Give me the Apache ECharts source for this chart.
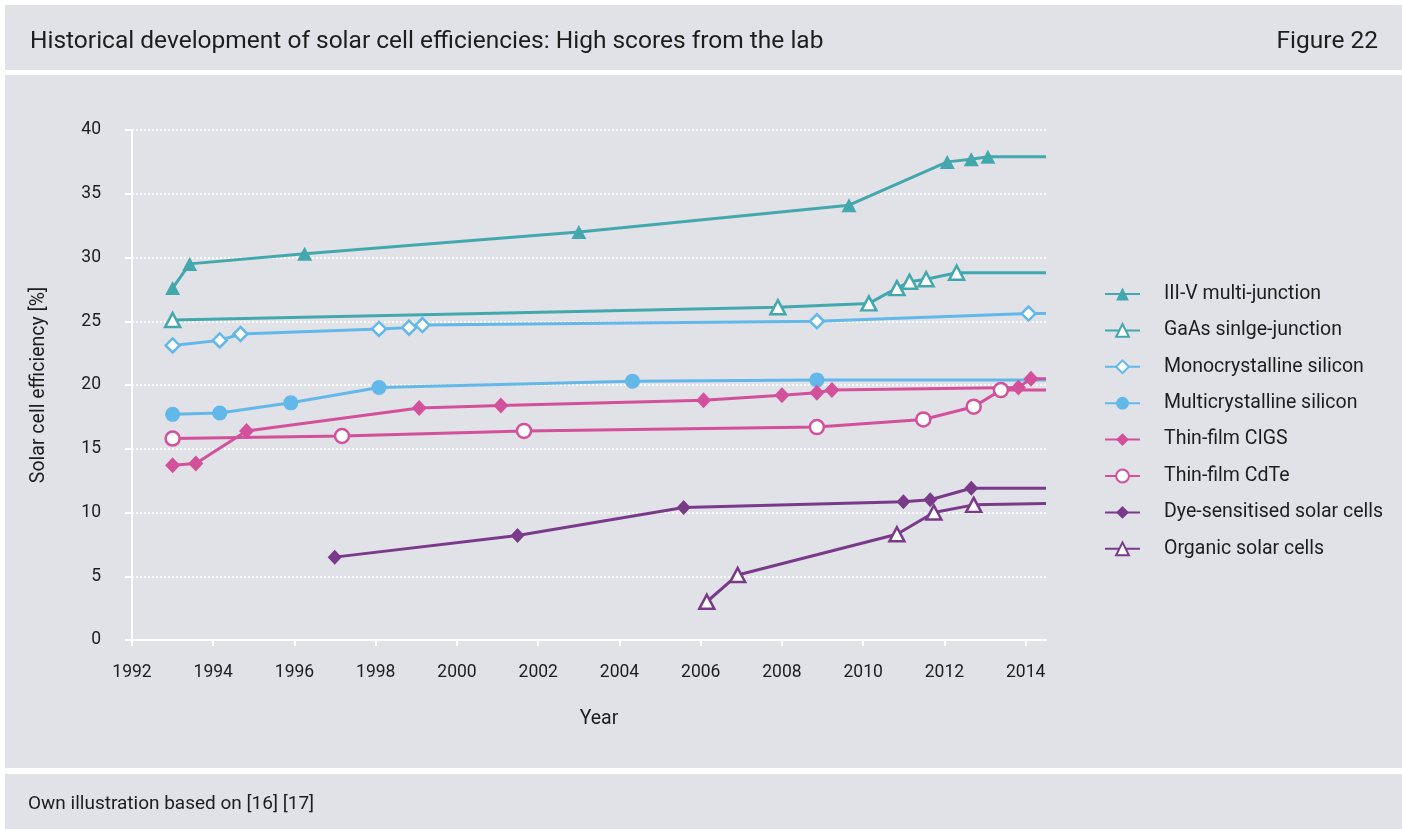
<!DOCTYPE html>
<html>
<head>
<meta charset="utf-8">
<script src="https://cdn.jsdelivr.net/npm/echarts@6/dist/echarts.min.js"></script>
<style>
html,body{margin:0;padding:0;background:#fff;}
#chart{width:1402px;height:829px;}
</style>
</head>
<body>
<div id="chart"></div>
<script>
// ---- Data (year, efficiency %) ----
const AXIS_END = 2014.5; // lines are drawn flat to the right edge of the plot
const seriesNames = [
  'III-V multi-junction',
  'GaAs sinlge-junction',
  'Monocrystalline silicon',
  'Multicrystalline silicon',
  'Thin-film CIGS',
  'Thin-film CdTe',
  'Dye-sensitised solar cells',
  'Organic solar cells'
];
const iiivYears = [1993.0, 1993.42, 1996.25, 2003.0, 2009.65, 2012.07, 2012.66, 2013.07, AXIS_END];
const iiivValues = [27.6, 29.5, 30.3, 32.0, 34.1, 37.5, 37.7, 37.9, 37.9];
const gaasYears = [1993.0, 2007.9, 2010.14, 2010.83, 2011.14, 2011.55, 2012.3, AXIS_END];
const gaasValues = [25.1, 26.1, 26.4, 27.6, 28.1, 28.3, 28.8, 28.8];
const monoYears = [1993.0, 1994.16, 1994.67, 1998.08, 1998.82, 1999.15, 2008.86, 2014.07, AXIS_END];
const monoValues = [23.1, 23.5, 24.0, 24.4, 24.5, 24.7, 25.0, 25.6, 25.6];
const multiYears = [1993.0, 1994.16, 1995.91, 1998.08, 2004.32, 2008.86, AXIS_END];
const multiValues = [17.7, 17.8, 18.6, 19.8, 20.3, 20.4, 20.4];
const cigsYears = [1993.0, 1993.57, 1994.82, 1999.07, 2001.08, 2006.07, 2008.0, 2008.86, 2009.23, 2013.82, 2014.13, AXIS_END];
const cigsValues = [13.7, 13.85, 16.4, 18.2, 18.4, 18.8, 19.2, 19.4, 19.6, 19.8, 20.5, 20.5];
const cdteYears = [1993.0, 1997.17, 2001.65, 2008.86, 2011.48, 2012.72, 2013.39, AXIS_END];
const cdteValues = [15.8, 16.0, 16.4, 16.7, 17.3, 18.3, 19.6, 19.6];
const dyeYears = [1996.99, 2001.49, 2005.58, 2010.99, 2011.65, 2012.66, AXIS_END];
const dyeValues = [6.5, 8.2, 10.4, 10.85, 11.0, 11.9, 11.9];
const organicYears = [2006.15, 2006.91, 2010.83, 2011.74, 2012.72, AXIS_END];
const organicValues = [3.0, 5.1, 8.3, 10.0, 10.6, 10.7];

const xTickLabels = ['1992','1994','1996','1998','2000','2002','2004','2006','2008','2010','2012','2014'];
const yTickLabels = ['0','5','10','15','20','25','30','35','40'];

// ---- Styles ----
const TEAL = '#43a8ad', BLUE = '#62b8e8', PINK = '#d3509a', PURPLE = '#7a3a8a';
const TEXT = '#1d1d1d';
const BG = '#e1e2e7';
const FONT = 'Roboto';

function pairs(xs, ys) {
  return xs.map((x, i) => {
    const item = { value: [x, ys[i]] };
    if (x === AXIS_END) item.symbol = 'none';
    return item;
  });
}

function mkSeries(name, xs, ys, color, symbol, size, hollow) {
  return {
    name: name,
    type: 'line',
    data: pairs(xs, ys),
    symbol: symbol,
    symbolSize: size,
    showAllSymbol: true,
    clip: false,
    lineStyle: { color: color, width: 3 },
    itemStyle: hollow
      ? { color: '#ffffff', borderColor: color, borderWidth: 2.5 }
      : { color: color, borderWidth: 0 },
    emphasis: { disabled: true },
    animation: false
  };
}

const chart = echarts.init(document.getElementById('chart'), null, { renderer: 'canvas' });

const option = {
  backgroundColor: BG,
  animation: false,
  textStyle: { fontFamily: FONT, color: TEXT },
  graphic: [
    { type: 'rect', z: -10, shape: { x: 0, y: 0, width: 1402, height: 5 }, style: { fill: '#fff' } },
    { type: 'rect', z: -10, shape: { x: 0, y: 0, width: 5, height: 829 }, style: { fill: '#fff' } },
    { type: 'rect', z: -10, shape: { x: 0, y: 70, width: 1402, height: 5 }, style: { fill: '#fff' } },
    { type: 'rect', z: -10, shape: { x: 0, y: 768, width: 1402, height: 6 }, style: { fill: '#fff' } },
    { type: 'text', left: 30, top: 29, style: { text: 'Historical development of solar cell efficiencies: High scores from the lab', font: '24.5px ' + FONT, fill: TEXT } },
    { type: 'text', right: 24, top: 29, style: { text: 'Figure 22', font: '24.5px ' + FONT, fill: TEXT } },
    { type: 'text', left: 28, top: 795, style: { text: 'Own illustration based on [16] [17]', font: '19px ' + FONT, fill: TEXT } }
  ],
  grid: { left: 132, right: 356, top: 130, bottom: 189, containLabel: false },
  legend: {
    orient: 'vertical',
    left: 1099,
    top: 278,
    itemWidth: 35,
    itemHeight: 16,
    itemGap: 14.4,
    textStyle: { fontSize: 19.5, color: TEXT, fontFamily: FONT, lineHeight: 22, padding: [0, 0, 0, 19] },
    data: seriesNames
  },
  xAxis: {
    type: 'value',
    min: 1992,
    max: AXIS_END,
    interval: 2,
    name: 'Year',
    nameLocation: 'middle',
    nameGap: 69,
    nameTextStyle: { fontSize: 19.5, color: TEXT, padding: [0, 0, 0, 20] },
    axisLine: { lineStyle: { color: '#ffffff', width: 2 } },
    axisTick: { show: true, length: 6, lineStyle: { color: '#ffffff', width: 2 } },
    splitLine: { show: false },
    axisLabel: {
      fontSize: 17.5, color: TEXT, margin: 24, showMaxLabel: false,
      formatter: function (v) { const i = xTickLabels.indexOf(String(v)); return i >= 0 ? xTickLabels[i] : ''; }
    }
  },
  yAxis: {
    type: 'value',
    min: 0,
    max: 40,
    interval: 5,
    name: 'Solar cell efficiency [%]',
    nameLocation: 'middle',
    nameGap: 83,
    nameTextStyle: { fontSize: 19.5, color: TEXT },
    axisLine: { show: true, lineStyle: { color: '#ffffff', width: 2 } },
    axisTick: { show: true, length: 7, lineStyle: { color: '#ffffff', width: 2 } },
    splitLine: { show: true, lineStyle: { color: '#ffffff', width: 1.5, type: [2, 2] } },
    axisLabel: {
      fontSize: 17.5, color: TEXT, margin: 31,
      formatter: function (v) { const i = yTickLabels.indexOf(String(v)); return i >= 0 ? yTickLabels[i] : ''; }
    }
  },
  series: [
    mkSeries(seriesNames[0], iiivYears, iiivValues, TEAL, 'triangle', [15, 14], false),
    mkSeries(seriesNames[1], gaasYears, gaasValues, TEAL, 'triangle', [15, 14], true),
    mkSeries(seriesNames[2], monoYears, monoValues, BLUE, 'diamond', [14, 14], true),
    mkSeries(seriesNames[3], multiYears, multiValues, BLUE, 'circle', 15, false),
    mkSeries(seriesNames[4], cigsYears, cigsValues, PINK, 'diamond', [15, 16], false),
    mkSeries(seriesNames[5], cdteYears, cdteValues, PINK, 'circle', 14, true),
    mkSeries(seriesNames[6], dyeYears, dyeValues, PURPLE, 'diamond', [14, 15], false),
    mkSeries(seriesNames[7], organicYears, organicValues, PURPLE, 'triangle', [15, 14], true)
  ]
};
chart.setOption(option);
</script>
</body>
</html>
